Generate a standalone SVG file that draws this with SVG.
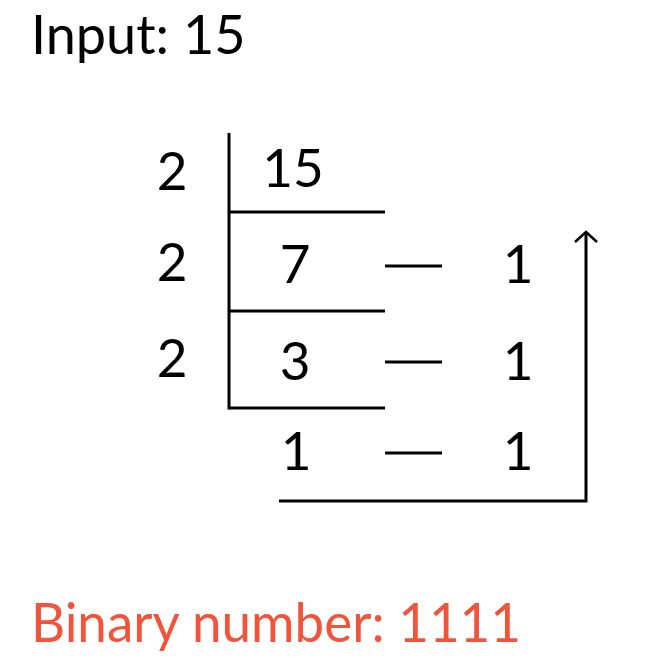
<svg xmlns="http://www.w3.org/2000/svg" width="661" height="665" viewBox="0 0 661 665">
<style>
text{font-family:Lato,"Noto Sans","Liberation Sans",sans-serif;font-size:53px;fill:#000}
.big{font-size:54px}
.c{text-anchor:middle}
.red{fill:#f2543b}
.ln{stroke:#000;stroke-width:3;fill:none}
</style>
<defs>
<marker id="ah" markerWidth="16" markerHeight="26" refX="13" refY="13" orient="auto" markerUnits="userSpaceOnUse" viewBox="0 0 16 26">
<path d="M3,2 L13,13 L3,24" fill="none" stroke="#000" stroke-width="2.5"/>
</marker>
</defs>
<rect width="661" height="665" fill="#fff"/>
<g id="title"><text class="big" x="31" y="54">Input: 15</text></g>
<g id="connectors">
<line class="ln" x1="229" y1="133" x2="229" y2="409.5"/>
<line class="ln" x1="229" y1="212" x2="385" y2="212"/>
<line class="ln" x1="229" y1="311" x2="385" y2="311"/>
<line class="ln" x1="229" y1="408" x2="385" y2="408"/>
<line class="ln" x1="385" y1="266" x2="442" y2="266"/>
<line class="ln" x1="385" y1="362" x2="442" y2="362"/>
<line class="ln" x1="385" y1="453" x2="442" y2="453"/>
<polyline class="ln" points="279,501 586,501 586,232" marker-end="url(#ah)"/>
</g>
<g id="divisors">
<text class="c" x="172" y="190">2</text>
<text class="c" x="172" y="281">2</text>
<text class="c" x="172" y="377">2</text>
</g>
<g id="quotients">
<text class="c" x="293" y="187">15</text>
<text class="c" x="295" y="283">7</text>
<text class="c" x="295" y="380">3</text>
<text class="c" x="296" y="470">1</text>
</g>
<g id="remainders">
<text class="c" x="518" y="283">1</text>
<text class="c" x="518" y="380">1</text>
<text class="c" x="518" y="470">1</text>
</g>
<g id="result"><text class="big red" x="31" y="642" textLength="490" lengthAdjust="spacingAndGlyphs">Binary number: 1111</text></g>
</svg>
